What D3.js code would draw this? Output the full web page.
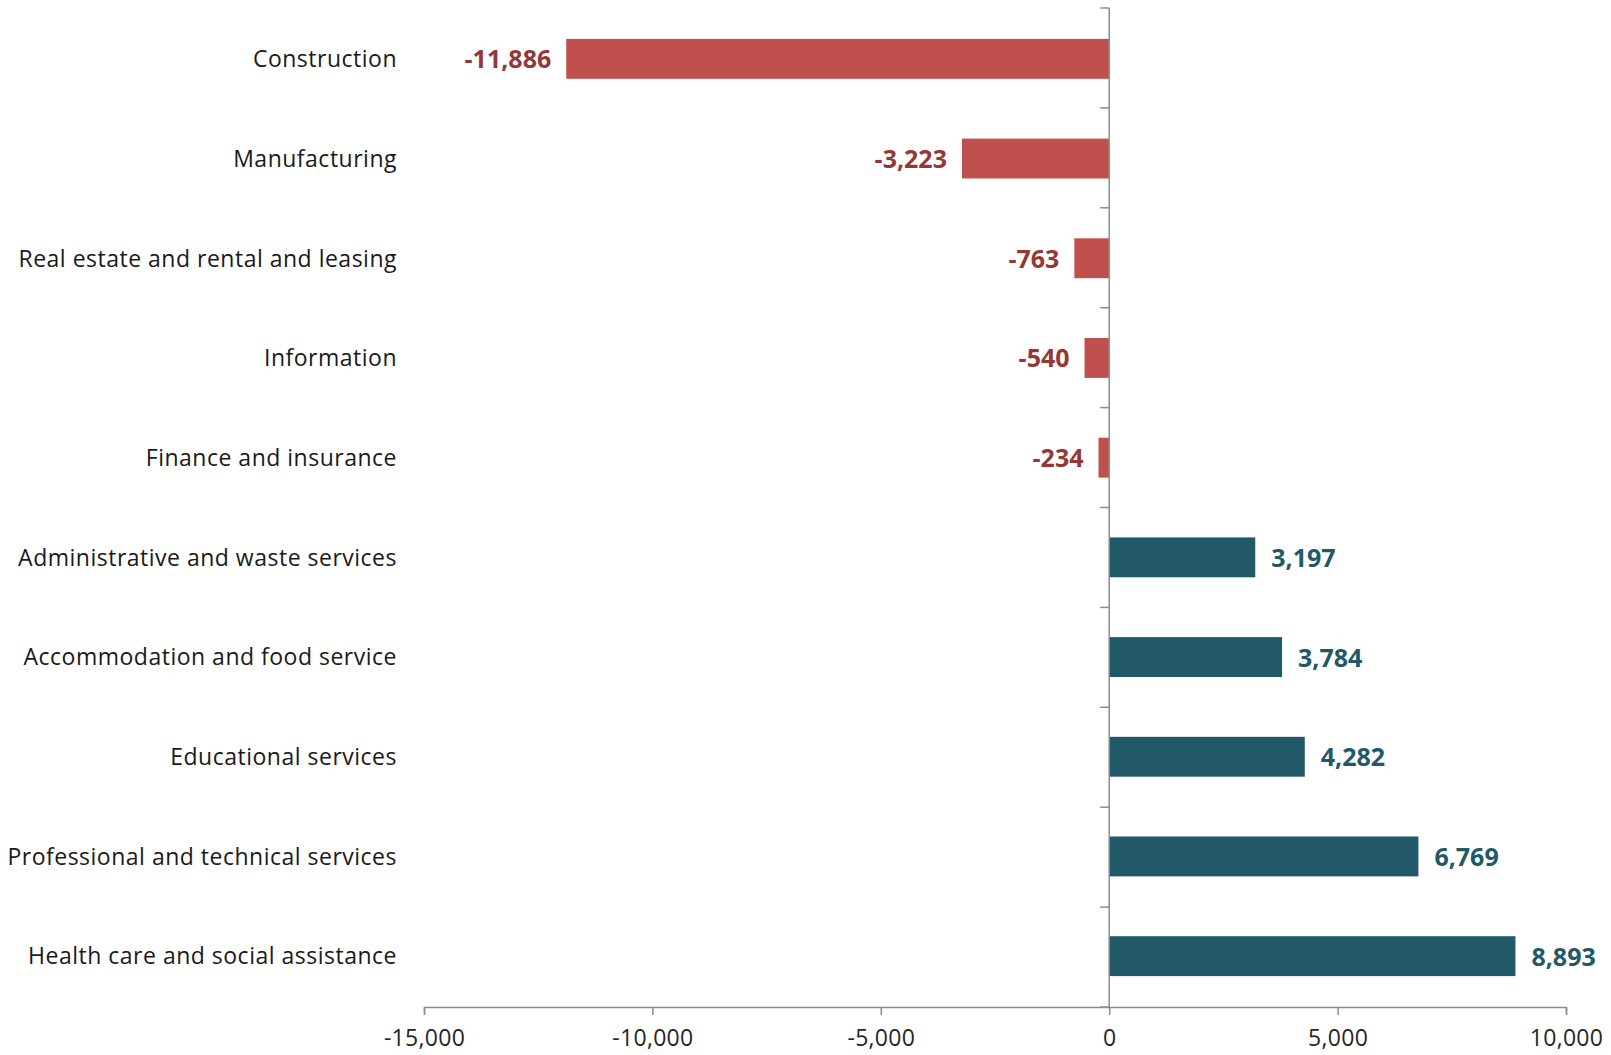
<!DOCTYPE html>
<html><head><meta charset="utf-8">
<script src="https://cdn.jsdelivr.net/npm/d3@7"></script>
<style>body{margin:0;background:#fff}svg{display:block}</style>
</head><body>
<svg id="c" width="1611" height="1055"></svg>
<script>
const categories = ["Construction","Manufacturing","Real estate and rental and leasing","Information","Finance and insurance","Administrative and waste services","Accommodation and food service","Educational services","Professional and technical services","Health care and social assistance"];
const values = [-11886,-3223,-763,-540,-234,3197,3784,4282,6769,8893];
const xTicks = [-15000,-10000,-5000,0,5000,10000];

(function(){
const svg = d3.select("#c");
const mLeft = 424, mRight = 1566, mTop = 8, mBottom = 1007;
const x = d3.scaleLinear().domain([-15000,10000]).range([mLeft,mRight]);
const y = d3.scaleBand().domain(categories).range([mTop,mBottom]).paddingInner(0.6).paddingOuter(0.31);
const fmt = v => d3.format(",")(v).replace("\u2212","-");
const axisCol = "#8c8c8c";
const font = "'Open Sans', sans-serif";

// x axis
const xa = svg.append("g").attr("transform",`translate(0,${mBottom})`)
  .call(d3.axisBottom(x).tickValues(xTicks).tickFormat(fmt).tickSizeInner(8).tickSizeOuter(8).tickPadding(15));
xa.select(".domain").attr("stroke",axisCol).attr("stroke-width",1.5);
xa.selectAll(".tick line").attr("stroke",axisCol).attr("stroke-width",1.5);
xa.selectAll(".tick text").attr("font-family",font).attr("font-size",23).attr("letter-spacing","0.3px")
  .attr("fill","#262626").attr("dy","0.68em");

// bars
svg.append("g").selectAll("rect").data(values).join("rect")
  .attr("x",d=>x(Math.min(0,d)))
  .attr("width",d=>Math.abs(x(d)-x(0)))
  .attr("y",(d,i)=>y(categories[i]))
  .attr("height",y.bandwidth())
  .attr("fill",d=>d<0?"#c0504d":"#215968");

// y axis line with ticks at band boundaries
const yAxisG = svg.append("g");
yAxisG.append("line").attr("x1",x(0)).attr("x2",x(0)).attr("y1",mTop).attr("y2",mBottom)
  .attr("stroke",axisCol).attr("stroke-width",1.5);
const bounds = d3.range(categories.length+1).map(i=>mTop + i*(mBottom-mTop)/categories.length);
yAxisG.selectAll("line.t").data(bounds).join("line").attr("class","t")
  .attr("x1",x(0)-9).attr("x2",x(0)).attr("y1",d=>d).attr("y2",d=>d)
  .attr("stroke",axisCol).attr("stroke-width",1.5);

// category labels
svg.append("g").selectAll("text").data(categories).join("text")
  .attr("x",397).attr("y",d=>y(d)+y.bandwidth()/2).attr("dy","0.36em")
  .attr("text-anchor","end").attr("font-family",font).attr("font-size",23).attr("letter-spacing","0.5px")
  .attr("fill","#1a1a1a")
  .text(d=>d);

// value labels
svg.append("g").selectAll("text").data(values).join("text")
  .attr("x",d=>d<0? x(d)-15 : x(d)+16)
  .attr("y",(d,i)=>y(categories[i])+y.bandwidth()/2).attr("dy","0.38em")
  .attr("text-anchor",d=>d<0?"end":"start")
  .attr("font-family",font).attr("font-weight","bold").attr("font-size",25)
  .attr("fill",d=>d<0?"#953735":"#215968")
  .text(d=>fmt(d));
})();
</script>
</body></html>
